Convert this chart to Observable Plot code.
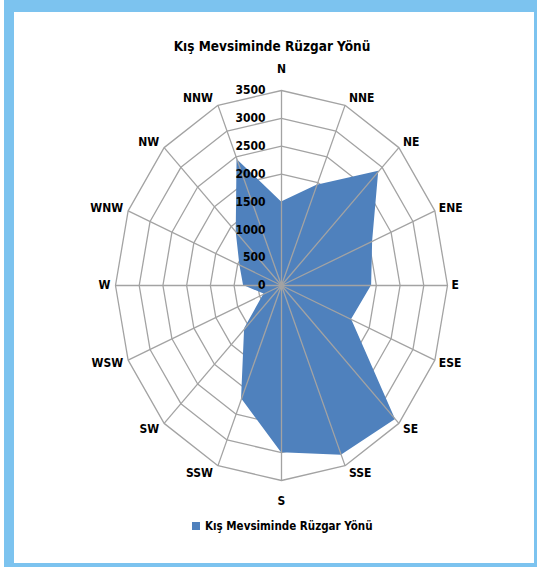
<!DOCTYPE html>
<html>
<head>
<meta charset="utf-8">
<script src="https://cdn.jsdelivr.net/npm/d3@7"></script>
<script src="https://cdn.jsdelivr.net/npm/@observablehq/plot@0.6"></script>
<style>
  html, body { margin: 0; padding: 0; background: #ffffff; }
  #page { position: relative; width: 540px; height: 567px; overflow: hidden; background: #fff; }
  #frame { position: absolute; left: 4px; top: 0; width: 520px; height: 551px;
           border-left: 10px solid #7cc3ef; border-top: 12px solid #7cc3ef;
           border-right: 3px solid #7cc3ef; border-bottom: 4px solid #7cc3ef; background: #fff; }
  #title { position: absolute; top: 38px; left: 0; width: 544px; text-align: center;
           font-family: "DejaVu Sans Condensed", "DejaVu Sans", sans-serif; font-weight: bold; font-size: 13.5px; color: #000; }
  #chart { position: absolute; top: 55px; left: 0; }
  #legend { position: absolute; top: 519px; left: 192px; font-family: "DejaVu Sans Condensed", "DejaVu Sans", sans-serif;
            font-weight: bold; font-size: 11.5px; color: #000; display: flex; align-items: center; }
  #legend .sw { width: 8px; height: 8px; background: #4f81bd; margin-right: 5px; }
</style>
</head>
<body>
<div id="page">
  <div id="frame"></div>
  <div id="title">Kış Mevsiminde Rüzgar Yönü</div>
  <div id="chart"></div>
  <div id="legend"><span class="sw"></span><span>Kış Mevsiminde Rüzgar Yönü</span></div>
</div>
<script>
const directions = ["N","NNE","NE","ENE","E","ESE","SE","SSE","S","SSW","SW","WSW","W","WNW","NW","NNW"];
const values = [1500, 1950, 2900, 2080, 1900, 1600, 3400, 3300, 3000, 2200, 1100, 400, 800, 950, 1350, 2450];
const tickValues = [0, 500, 1000, 1500, 2000, 2500, 3000, 3500];
const tickLabels = ["0", "500", "1000", "1500", "2000", "2500", "3000", "3500"];
const seriesName = "Kış Mevsiminde Rüzgar Yönü";

const maxV = 3500;
const W = 540, H = 460;
const xRange = [115, 447], yRange = [425, 35];
const pxX = (xRange[1] - xRange[0]) / (2 * maxV);
const pxY = (yRange[0] - yRange[1]) / (2 * maxV);
const n = directions.length;
const ang = i => (i / n) * 2 * Math.PI;

const pts = directions.map((d, i) => ({dir: d, value: values[i], a: ang(i)}));

const rings = [];
tickValues.filter(t => t > 0).forEach(t => {
  for (let i = 0; i <= n; i++) rings.push({level: t, a: ang(i % n)});
});

const labelData = directions.map((d, i) => {
  const a = ang(i);
  const s = Math.sin(a), c = Math.cos(a);
  const side = Math.abs(s) < 0.1 ? "middle" : (s > 0 ? "start" : "end");
  const offX = side === "middle" ? 0 : (s > 0 ? 4 : -5);
  const offY = side === "middle" ? 21 * c : 8 * c;
  return {dir: d, side, x: s * maxV + offX / pxX, y: c * maxV + offY / pxY};
});

const tickData = tickValues.map((t, i) => ({t, label: tickLabels[i]}));

const font = "DejaVu Sans Condensed, DejaVu Sans, sans-serif";
const grid = "#a3a3a3";

const plot = Plot.plot({
  width: W, height: H,
  margin: 0,
  x: {domain: [-maxV, maxV], range: xRange, axis: null},
  y: {domain: [-maxV, maxV], range: yRange, axis: null},
  marks: [
    Plot.line(rings, {x: d => d.level * Math.sin(d.a), y: d => d.level * Math.cos(d.a), z: "level",
      stroke: grid, strokeWidth: 1.3}),
    Plot.area(pts, {x1: d => d.value * Math.sin(d.a), y1: d => d.value * Math.cos(d.a), x2: 0, y2: 0,
      curve: "linear-closed", fill: "#4f81bd", fillOpacity: 1}),
    Plot.link(pts, {x1: 0, y1: 0, x2: d => maxV * Math.sin(d.a), y2: d => maxV * Math.cos(d.a),
      stroke: grid, strokeWidth: 1.3}),
    ...["start", "end", "middle"].map(side =>
      Plot.text(labelData.filter(d => d.side === side), {x: "x", y: "y", text: "dir", textAnchor: side,
        fontFamily: font, fontWeight: "bold", fontSize: 12, fill: "#000"})),
    Plot.text(tickData, {x: -16 / pxX, y: "t", text: "label", textAnchor: "end",
      fontFamily: font, fontWeight: "bold", fontSize: 12, fill: "#000"})
  ]
});
document.getElementById("chart").appendChild(plot);
</script>
</body>
</html>
